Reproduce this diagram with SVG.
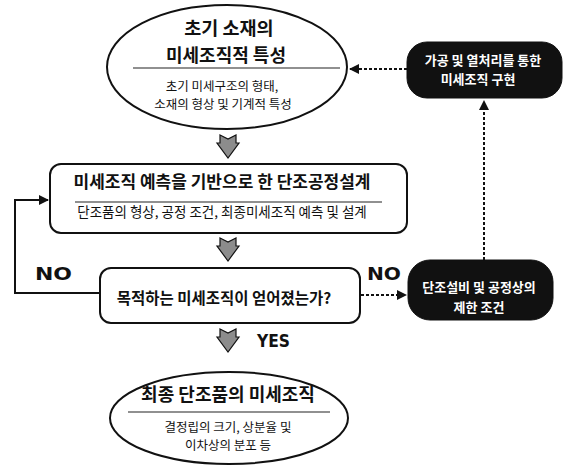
<svg xmlns="http://www.w3.org/2000/svg" width="566" height="467" viewBox="0 0 566 467">
  <style>
    .shape { fill: #fff; stroke: #111; stroke-width: 2; }
    .dark { fill: #111; stroke: #111; stroke-width: 1; }
    .sep { stroke: #222; stroke-width: 1.2; }
    .ko { font-family: "Noto Sans CJK KR", sans-serif; fill: #111; text-anchor: middle; }
    .tt { font-weight: bold; }
    .wt { fill: #fff; font-weight: bold; }
    .lbl { font-family: "DejaVu Sans", sans-serif; font-weight: bold; font-size: 17px; fill: #111; }
    .conn { fill: none; stroke: #111; stroke-width: 2; }
    .dash { stroke-dasharray: 3 2; }
    .big { fill: #8c8c8c; stroke: #111; stroke-width: 1.2; }
  </style>
  <defs>
    <marker id="ah" viewBox="0 0 10 10" refX="9" refY="5" markerWidth="11" markerHeight="10" markerUnits="userSpaceOnUse" orient="auto">
      <path d="M0,0 L10,5 L0,10 Z" fill="#111"/>
    </marker>
    <path id="fat" d="M-8,0 L0,4 L8,0 L8,8 L11,8 L0,23 L-11,8 L-8,8 Z"/>
  </defs>

  <g id="connectors">
    <path class="conn" d="M100,293 H15 V200 H48" marker-end="url(#ah)"/>
    <path class="conn dash" d="M407,69 H350" marker-end="url(#ah)"/>
    <path class="conn dash" d="M361,295 H406" marker-end="url(#ah)"/>
    <path class="conn dash" d="M484,260 V101" marker-end="url(#ah)"/>
    <use href="#fat" class="big" x="228" y="135"/>
    <use href="#fat" class="big" x="228" y="238"/>
    <use href="#fat" class="big" x="228" y="329"/>
  </g>

  <g id="initial">
    <ellipse class="shape" cx="227" cy="67" rx="120" ry="62"/>
    <line class="sep" x1="133" y1="68" x2="340" y2="68"/>
    <text class="ko tt" x="229" y="35" font-size="18.5">초기 소재의</text>
    <text class="ko tt" x="226" y="62" font-size="18">미세조직적 특성</text>
    <text class="ko" x="222" y="91" font-size="12.5">초기 미세구조의 형태,</text>
    <text class="ko" x="223" y="109" font-size="12.5">소재의 형상 및 기계적 특성</text>
  </g>

  <g id="design">
    <rect class="shape" x="50" y="164" width="357" height="69" rx="11"/>
    <line class="sep" x1="75" y1="202" x2="382" y2="202"/>
    <text class="ko tt" x="222" y="188" font-size="17">미세조직 예측을 기반으로 한 단조공정설계</text>
    <text class="ko" x="222" y="217" font-size="13.5">단조품의 형상, 공정 조건, 최종미세조직 예측 및 설계</text>
  </g>

  <g id="decision">
    <rect class="shape" x="100" y="268" width="260" height="55" rx="11"/>
    <text class="ko tt" x="224" y="304" font-size="15.5">목적하는 미세조직이 얻어졌는가?</text>
  </g>

  <g id="final">
    <ellipse class="shape" cx="229" cy="418" rx="119" ry="46"/>
    <line class="sep" x1="128" y1="412" x2="330" y2="412"/>
    <text class="ko tt" x="228" y="401" font-size="18">최종 단조품의 미세조직</text>
    <text class="ko" x="228" y="432" font-size="12.5">결정립의 크기, 상분율 및</text>
    <text class="ko" x="228" y="450" font-size="12.5">이차상의 분포 등</text>
  </g>

  <g id="realize">
    <rect class="dark" x="407" y="42" width="155" height="56" rx="20"/>
    <text class="ko wt" x="483" y="65" font-size="13">가공 및 열처리를 통한</text>
    <text class="ko wt" x="478" y="84" font-size="13">미세조직 구현</text>
  </g>

  <g id="limits">
    <rect class="dark" x="408" y="260" width="145" height="60" rx="22"/>
    <text class="ko wt" x="479" y="292" font-size="13">단조설비 및 공정상의</text>
    <text class="ko wt" x="479" y="312" font-size="13">제한 조건</text>
  </g>

  <g id="labels">
    <text class="lbl" x="35" y="280" textLength="37" lengthAdjust="spacingAndGlyphs">NO</text>
    <text class="lbl" x="367" y="280" textLength="34" lengthAdjust="spacingAndGlyphs">NO</text>
    <text class="lbl" x="257" y="347" textLength="33" lengthAdjust="spacingAndGlyphs">YES</text>
  </g>
</svg>
